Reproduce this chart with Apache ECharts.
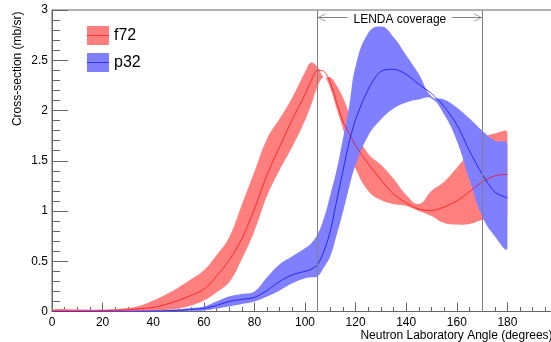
<!DOCTYPE html>
<html>
<head>
<meta charset="utf-8">
<script src="https://cdn.jsdelivr.net/npm/echarts@6/dist/echarts.min.js"></script>
<style>
html,body{margin:0;padding:0;background:#fff;}
#chart{width:551px;height:342px;}
</style>
</head>
<body>
<div id="chart"></div>
<script>
// Neutron laboratory angle (degrees)
const angle = [0,10,20,30,35,40,45,50,55,60,65,70,75,80,85,90,95,100,102.5,105,107.5,110,112.5,115,117.5,120,125,130,135,140,145,150,155,160,165,170,175,180];

// f72 cross-section (mb/sr): central curve and band edges
const f72Center = [0.005,0.005,0.008,0.018,0.027,0.04,0.07,0.11,0.16,0.22,0.35,0.51,0.72,1.02,1.36,1.64,1.91,2.16,2.30,2.40,2.39,2.28,2.08,1.89,1.77,1.65,1.47,1.31,1.17,1.08,1.02,1.005,1.04,1.10,1.19,1.29,1.35,1.365];
const f72High   = [0.02,0.02,0.02,0.035,0.06,0.11,0.17,0.24,0.32,0.41,0.56,0.74,1.06,1.39,1.72,1.92,2.13,2.38,2.48,2.43,2.33,2.33,2.25,2.13,1.97,1.79,1.57,1.46,1.32,1.16,1.07,1.20,1.29,1.43,1.58,1.72,1.77,1.78];
const f72Low    = [0.0,0.0,0.0,0.003,0.004,0.006,0.015,0.03,0.06,0.11,0.19,0.29,0.52,0.80,1.15,1.41,1.64,1.90,2.06,2.24,2.33,2.22,2.02,1.82,1.60,1.42,1.20,1.11,1.07,1.05,1.00,0.95,0.88,0.865,0.87,0.91,0.93,0.95];

// p32 cross-section (mb/sr): central curve and band edges
const p32Center = [0.0,0.0,0.001,0.002,0.003,0.004,0.007,0.012,0.02,0.03,0.06,0.10,0.12,0.14,0.21,0.30,0.365,0.40,0.42,0.47,0.60,0.80,1.10,1.40,1.69,1.91,2.21,2.39,2.41,2.36,2.26,2.17,2.04,1.86,1.60,1.37,1.19,1.13];
const p32High   = [0.003,0.003,0.004,0.006,0.008,0.01,0.015,0.022,0.035,0.05,0.10,0.15,0.175,0.20,0.34,0.47,0.55,0.63,0.68,0.77,0.93,1.16,1.41,1.72,2.05,2.44,2.77,2.84,2.73,2.55,2.36,2.14,2.11,2.03,1.92,1.80,1.70,1.665];
const p32Low    = [0.0,0.0,0.0,0.0,0.001,0.001,0.002,0.004,0.007,0.01,0.03,0.05,0.075,0.10,0.15,0.21,0.28,0.33,0.34,0.35,0.44,0.55,0.76,0.99,1.24,1.46,1.75,1.91,2.02,2.08,2.11,2.12,1.96,1.70,1.31,0.95,0.75,0.63];

// LENDA coverage limits (degrees) and label
const lendaRange = [105, 170];
const lendaLevel = 2.925;
const lendaLabel = 'LENDA coverage';

const seriesNames = ['f72', 'p32'];
const FONT = 'Liberation Sans, Arial, Helvetica, sans-serif';

function bandRender(hi, lo, color) {
  return function (params, api) {
    if (params.dataIndex !== 0) return null;
    const pts = [];
    for (let i = 0; i < angle.length; i++) pts.push(api.coord([angle[i], hi[i]]));
    for (let i = angle.length - 1; i >= 0; i--) pts.push(api.coord([angle[i], lo[i]]));
    let minX = Infinity, minY = Infinity, maxX = -Infinity, maxY = -Infinity;
    pts.forEach(p => { minX = Math.min(minX, p[0]); maxX = Math.max(maxX, p[0]); minY = Math.min(minY, p[1]); maxY = Math.max(maxY, p[1]); });
    return {
      type: 'polygon',
      shape: { points: pts, smooth: 0.45, smoothConstraint: [[minX, minY], [maxX, maxY]] },
      style: { fill: color, stroke: null }
    };
  };
}

const chevron = 'path://M5,10 L10,20 L9,20 L5,11.6 L1,20 L0,20 Z M5,0 L5.01,0 L5,0.01 Z';

const chart = echarts.init(document.getElementById('chart'), null, { renderer: 'canvas' });
chart.setOption({
  animation: false,
  backgroundColor: '#fff',
  textStyle: { fontFamily: FONT },
  grid: { left: 52, top: 10, bottom: 30.5, right: -7, outerBoundsMode: 'none', containLabel: false,
          show: true, borderColor: '#666', borderWidth: 1, backgroundColor: 'transparent' },
  legend: {
    orient: 'vertical', left: 82, top: 21, itemWidth: 22, itemHeight: 19, itemGap: 8,
    icon: 'rect', selectedMode: false,
    textStyle: { fontSize: 16, color: '#000', fontFamily: FONT },
    data: seriesNames
  },
  xAxis: {
    type: 'value', min: 0, max: 200, interval: 20,
    name: 'Neutron Laboratory Angle (degrees)', nameLocation: 'middle', nameGap: 18, nameMoveOverlap: false,
    nameTextStyle: { fontSize: 12, color: '#000', fontFamily: FONT, padding: [0, 0, 0, 303] },
    axisLine: { show: true, lineStyle: { color: '#666', width: 1 } },
    axisTick: { show: true, inside: true, length: 9, lineStyle: { color: '#666' } },
    minorTick: { show: true, splitNumber: 4, length: 4.5, lineStyle: { color: '#666' } },
    axisLabel: { fontSize: 12, color: '#000', margin: 5, fontFamily: FONT, showMaxLabel: false },
    splitLine: { show: false }
  },
  yAxis: {
    type: 'value', min: 0, max: 3, interval: 0.5,
    name: 'Cross-section (mb/sr)', nameLocation: 'middle', nameGap: 28, nameMoveOverlap: false,
    nameTextStyle: { fontSize: 12, color: '#000', fontFamily: FONT, padding: [0, 0, 0, 184] },
    axisLine: { show: true, lineStyle: { color: '#666', width: 1 } },
    axisTick: { show: true, inside: true, length: 16, lineStyle: { color: '#666' } },
    minorTick: { show: true, splitNumber: 5, length: 8, lineStyle: { color: '#666' } },
    axisLabel: { fontSize: 12, color: '#000', margin: 4, fontFamily: FONT },
    splitLine: { show: false }
  },
  graphic: [
    { type: 'line', shape: { x1: 87, y1: 35.5, x2: 109, y2: 35.5 }, style: { stroke: '#ff3030', lineWidth: 1 }, z: 100 },
    { type: 'line', shape: { x1: 87, y1: 62.5, x2: 109, y2: 62.5 }, style: { stroke: '#3030ff', lineWidth: 1 }, z: 100 }
  ],
  series: [
    {
      name: seriesNames[0], type: 'custom', renderItem: bandRender(f72High, f72Low, '#ff7f7f'),
      itemStyle: { color: '#ff7f7f' },
      data: angle.map((a, i) => [a, f72High[i], f72Low[i]]), encode: { x: 0, y: [1, 2] }, silent: true
    },
    {
      name: seriesNames[1], type: 'custom', renderItem: bandRender(p32High, p32Low, '#7f7fff'),
      itemStyle: { color: '#7f7fff' },
      data: angle.map((a, i) => [a, p32High[i], p32Low[i]]), encode: { x: 0, y: [1, 2] }, silent: true
    },
    {
      type: 'line', smooth: 0.3, symbol: 'none', silent: true,
      lineStyle: { color: '#ff0000', width: 0.7 },
      data: angle.map((a, i) => [a, f72Center[i]])
    },
    {
      type: 'line', smooth: 0.3, symbol: 'none', silent: true,
      lineStyle: { color: '#0000ff', width: 0.7 },
      data: angle.map((a, i) => [a, p32Center[i]]),
      markLine: {
        silent: true, animation: false,
        symbol: 'none',
        lineStyle: { color: '#808080', width: 1, type: 'solid' },
        label: { show: false },
        data: [
          { xAxis: lendaRange[0] },
          { xAxis: lendaRange[1] },
          [
            { coord: [lendaRange[0], lendaLevel], symbol: chevron, symbolSize: [8, 16] },
            { coord: [lendaRange[1], lendaLevel], symbol: chevron, symbolSize: [8, 16],
              label: { show: true, position: 'middle', formatter: lendaLabel, distance: -9,
                       color: '#000', fontSize: 12, fontFamily: FONT, backgroundColor: '#fff', padding: [1, 6] } }
          ]
        ]
      }
    }
  ]
});
</script>
</body>
</html>
